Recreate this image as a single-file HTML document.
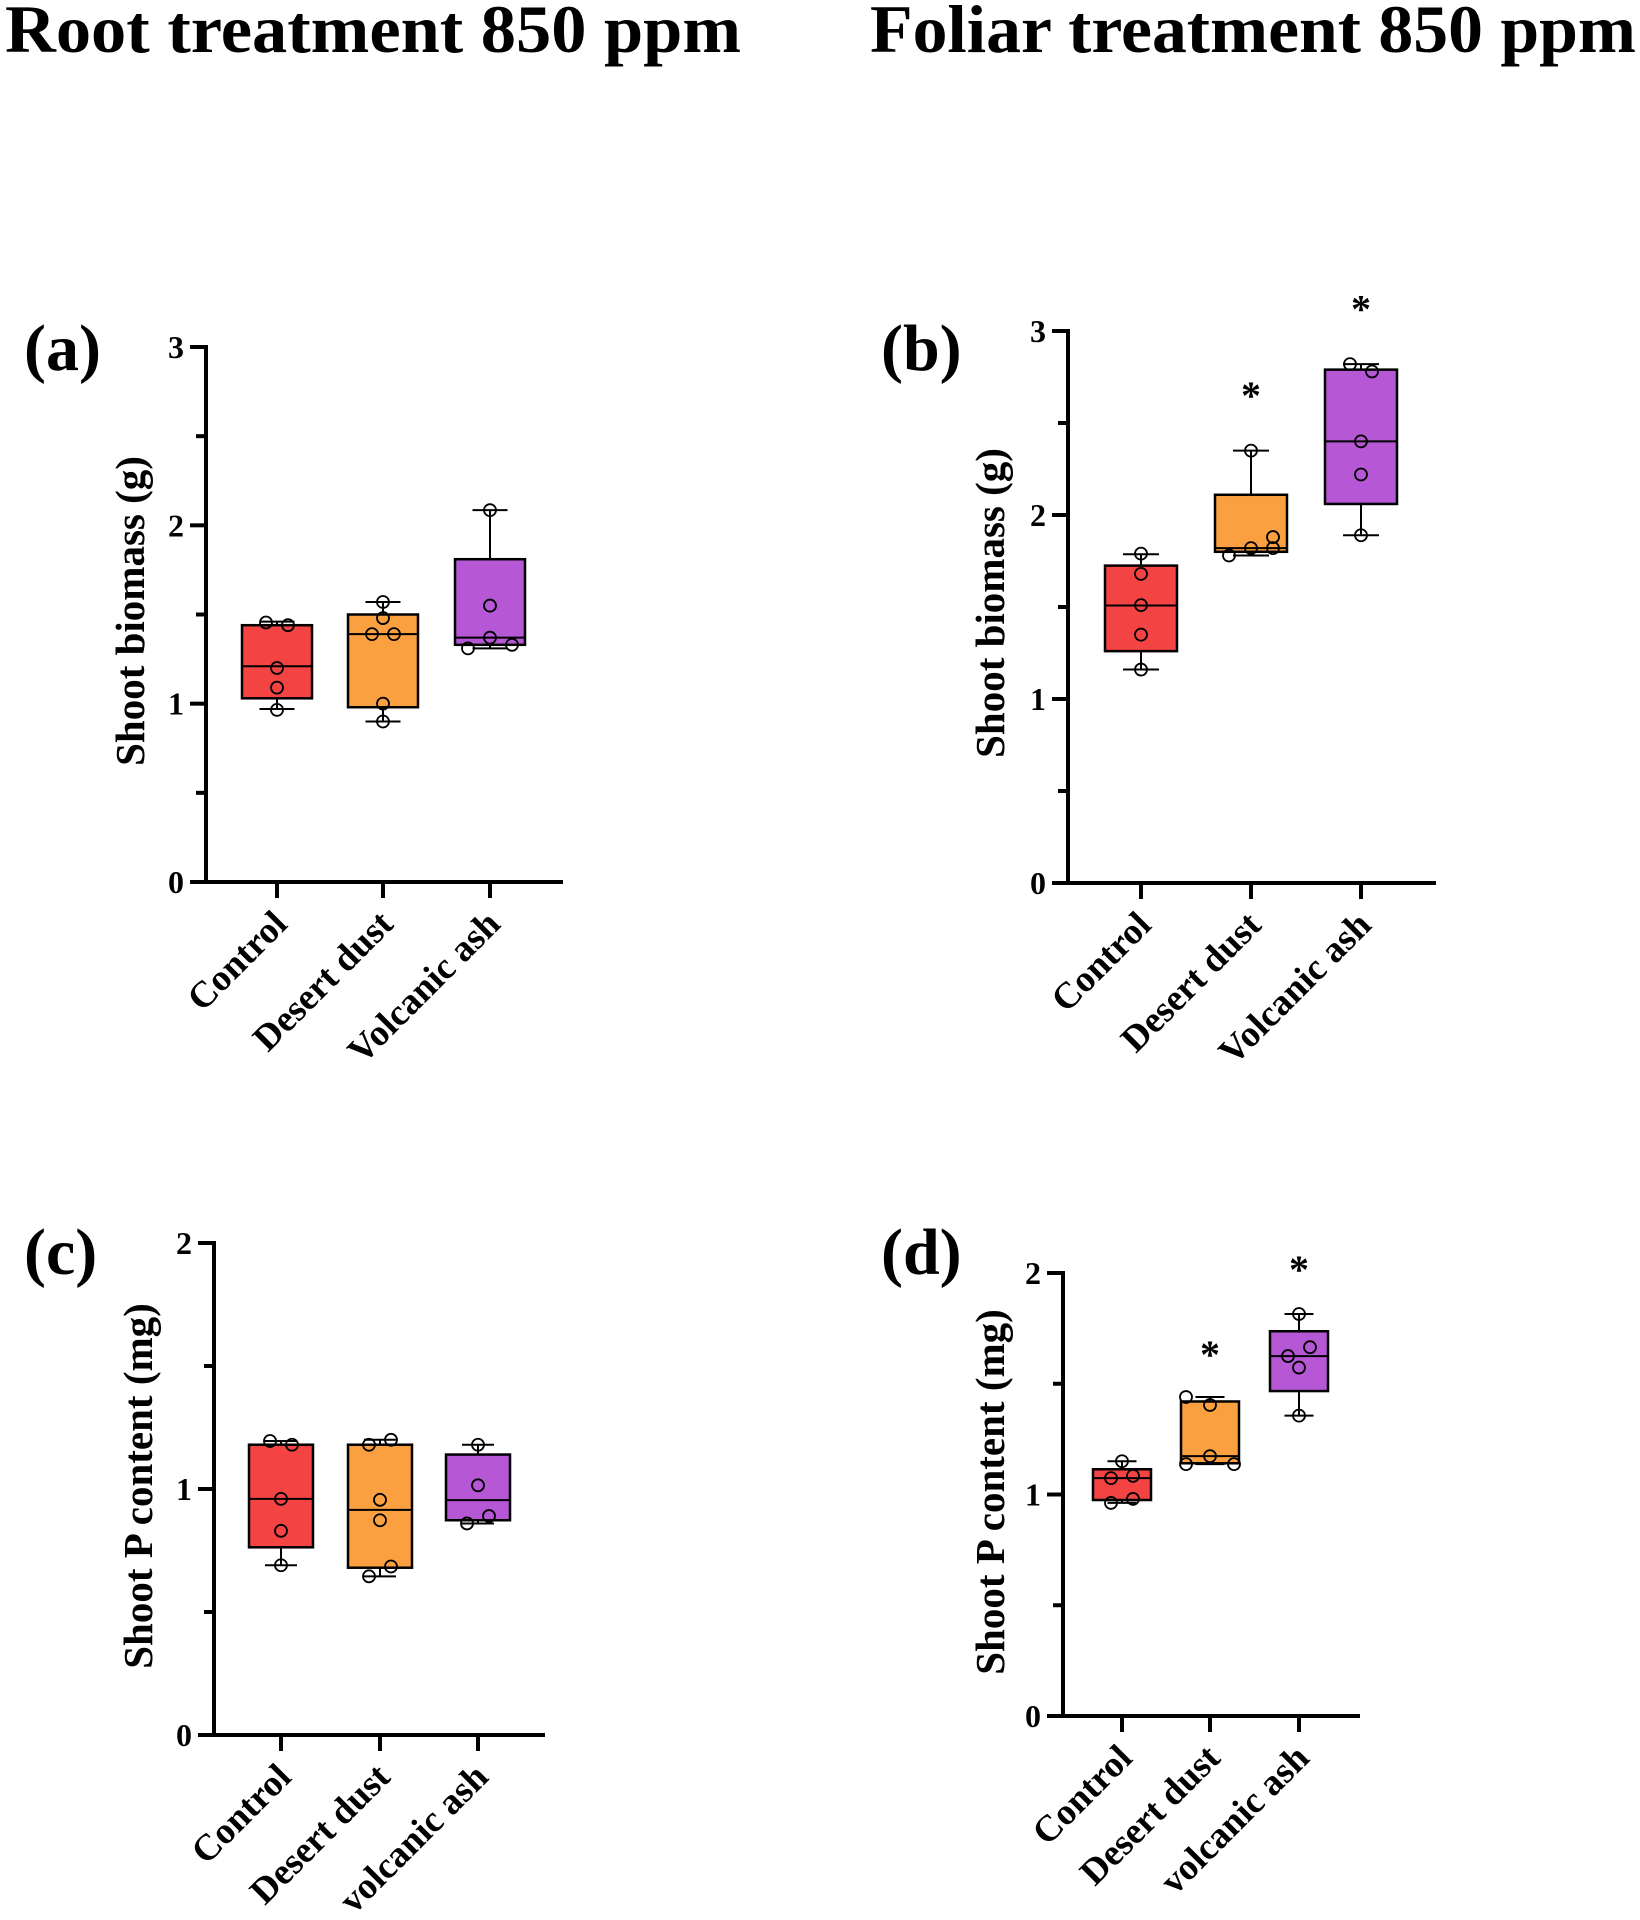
<!DOCTYPE html>
<html><head><meta charset="utf-8"><style>
html,body{margin:0;padding:0;background:#fff;}
svg{display:block;}
text{font-family:"Liberation Serif",serif;font-weight:bold;fill:#000;}
</style></head><body>
<svg id="fig" width="1640" height="1920" viewBox="0 0 1640 1920" xmlns="http://www.w3.org/2000/svg">
<text x="5" y="52" font-size="68" textLength="736" lengthAdjust="spacingAndGlyphs">Root treatment 850 ppm</text>
<text x="870" y="52" font-size="68" textLength="766" lengthAdjust="spacingAndGlyphs">Foliar treatment 850 ppm</text>
</svg>
<script>
// ---- data ----
const categoriesAB = ["Control","Desert dust","Volcanic ash"];
const categoriesCD = ["Control","Desert dust","volcanic ash"];
const colors = ["#F44343","#FBA040","#B657D6"];
// box stats: [whiskerLow, q1, median, q3, whiskerHigh]
const statsA = [[0.97,1.03,1.21,1.44,1.46],[0.90,0.98,1.39,1.50,1.57],[1.31,1.33,1.37,1.81,2.085]];
const pointsA = [[1.455,1.44,1.20,1.09,0.965],[1.57,1.48,1.39,1.39,1.00,0.90],[2.085,1.55,1.37,1.31,1.33]];
const statsB = [[1.16,1.26,1.508,1.725,1.787],[1.78,1.80,1.82,2.11,2.35],[1.89,2.06,2.40,2.79,2.82]];
const pointsB = [[1.79,1.68,1.51,1.35,1.16],[2.35,1.78,1.82,1.82,1.88],[2.82,2.78,2.40,2.22,1.89]];
const starsB = [null,2.68,3.15];
const statsC = [[0.69,0.763,0.96,1.18,1.195],[0.645,0.68,0.915,1.18,1.20],[0.86,0.873,0.955,1.14,1.18]];
const pointsC = [[1.195,1.18,0.96,0.83,0.69],[1.18,1.20,0.956,0.873,0.685,0.645],[1.18,1.015,0.89,0.86]];
const statsD = [[0.962,0.975,1.074,1.114,1.15],[1.137,1.141,1.173,1.42,1.44],[1.356,1.467,1.625,1.737,1.815]];
const pointsD = [[1.15,1.074,1.084,0.962,0.98],[1.44,1.404,1.173,1.137,1.137],[1.815,1.665,1.625,1.573,1.356]];
const starsD = [null,1.657,2.04];
const ticksAB = [0,1,2,3];
const ticksCD = [0,1,2];
// jitter offsets (styling, px) per point
const jitA = [[-11,11,0,0,0],[0,0,-11,11,0,0],[0,0,0,-22,22]];
const jitB = [[0,0,0,0,0],[0,-22,0,22,22],[-11,11,0,0,0]];
const jitC = [[-11,11,0,0,0],[-11,11,0,0,11,-11],[0,0,11,-11]];
const jitD = [[0,-11,11,-11,11],[-24,0,0,-24,24],[0,11,-11,0,0]];

const NS="http://www.w3.org/2000/svg";
const svg=document.getElementById('fig');
function mk(tag,attrs,parent){const e=document.createElementNS(NS,tag);for(const k in attrs)e.setAttribute(k,attrs[k]);(parent||svg).appendChild(e);return e;}

function panel(p){
  const g=mk('g',{});
  
  
  const ymax=p.ticks[p.ticks.length-1];
  const Y=v=>p.y0-(v/ymax)*(p.y0-p.yTop);
  const X=i=>p.cx[i];
  const lt=mk('text',{x:p.lx,y:p.ly,'font-size':66},g); lt.textContent='('+p.id+')';
  
  
  const yt=mk('text',{x:0,y:0,'font-size':41,'text-anchor':'middle',transform:`translate(${p.tx},${p.ty}) rotate(-90)`},g);
  yt.textContent=p.ytitle;
  
  
  const ya=mk('line',{x1:p.x0,y1:p.yTop-2,x2:p.x0,y2:p.y0+2,stroke:'#000','stroke-width':4},g);
  
  
  const xa=mk('line',{x1:p.x0-16,y1:p.y0,x2:p.xEnd,y2:p.y0,stroke:'#000','stroke-width':4},g);
  
  
  p.ticks.forEach((t,i)=>{
    mk('line',{x1:p.x0-16,y1:Y(t),x2:p.x0,y2:Y(t),stroke:'#000','stroke-width':4},g);
    const tl=mk('text',{x:p.x0-22,y:Y(t)+11,'font-size':32,'text-anchor':'end'},g);
    tl.textContent=t;
    
    
    if(i<p.ticks.length-1){const m=(t+p.ticks[i+1])/2;mk('line',{x1:p.x0-10,y1:Y(m),x2:p.x0,y2:Y(m),stroke:'#000','stroke-width':4},g);}
  });
  p.cats.forEach((c,i)=>{
    mk('line',{x1:X(i),y1:p.y0,x2:X(i),y2:p.y0+16,stroke:'#000','stroke-width':4},g);
    const cl=mk('text',{x:0,y:0,'font-size':37,'text-anchor':'end',transform:`translate(${X(i)+12},${p.y0+44}) rotate(-45)`},g);
    cl.textContent=c;
    
    
    const s=p.stats[i];const hw=p.bw/2;
    const wl=mk('line',{x1:X(i),y1:Y(s[0]),x2:X(i),y2:Y(s[4]),stroke:'#000','stroke-width':2},g);
    
    
    mk('line',{x1:X(i)-hw/2,y1:Y(s[0]),x2:X(i)+hw/2,y2:Y(s[0]),stroke:'#000','stroke-width':2},g);
    mk('line',{x1:X(i)-hw/2,y1:Y(s[4]),x2:X(i)+hw/2,y2:Y(s[4]),stroke:'#000','stroke-width':2},g);
    const b=mk('rect',{x:X(i)-hw,y:Y(s[3]),width:p.bw,height:Y(s[1])-Y(s[3]),fill:colors[i],stroke:'#000','stroke-width':2.5},g);
    
    
    const md=mk('line',{x1:X(i)-hw,y1:Y(s[2]),x2:X(i)+hw,y2:Y(s[2]),stroke:'#000','stroke-width':2},g);
    
    
    p.pts[i].forEach((v,j)=>{
      const pt=mk('circle',{cx:X(i)+(p.jit[i][j]||0),cy:Y(v),r:6,fill:'none',stroke:'#000','stroke-width':1.8},g);
      
      
    });
    if(p.stars&&p.stars[i]!=null){
      const st=mk('text',{x:X(i),y:Y(p.stars[i])+19,'font-size':40,'text-anchor':'middle','font-family':'Liberation Sans'},g);
      st.textContent='*';
      
      
    }
  });
}
panel({id:'a',cats:categoriesAB,stats:statsA,pts:pointsA,jit:jitA,ticks:ticksAB,x0:206,xEnd:563,y0:882,yTop:347,cx:[277,383,490],bw:70,lx:24,ly:370,tx:144,ty:611,ytitle:'Shoot biomass (g)'});
panel({id:'b',cats:categoriesAB,stats:statsB,pts:pointsB,jit:jitB,stars:starsB,ticks:ticksAB,x0:1068,xEnd:1436,y0:883,yTop:331,cx:[1141,1251,1361],bw:72,lx:881,ly:370,tx:1004,ty:603,ytitle:'Shoot biomass (g)'});
panel({id:'c',cats:categoriesCD,stats:statsC,pts:pointsC,jit:jitC,ticks:ticksCD,x0:214,xEnd:545,y0:1735,yTop:1243,cx:[281,380,478],bw:64,lx:24,ly:1274,tx:152,ty:1486,ytitle:'Shoot P content (mg)'});
panel({id:'d',cats:categoriesCD,stats:statsD,pts:pointsD,jit:jitD,stars:starsD,ticks:ticksCD,x0:1063,xEnd:1360,y0:1716,yTop:1273,cx:[1122,1210,1299],bw:58,lx:881,ly:1274,tx:1004,ty:1492,ytitle:'Shoot P content (mg)'});
</script>
</body></html>
